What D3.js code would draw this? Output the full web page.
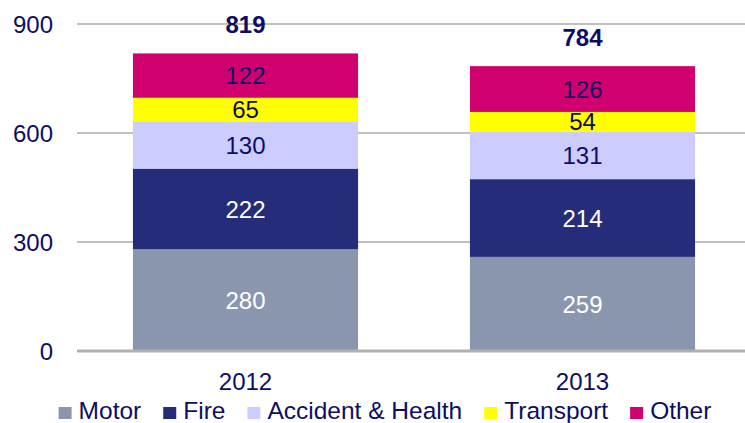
<!DOCTYPE html>
<html>
<head>
<meta charset="utf-8">
<script src="https://cdn.jsdelivr.net/npm/d3@7"></script>
<style>
  html, body { margin: 0; padding: 0; background: #fff; }
  svg { display: block; font-family: "Liberation Sans", Arial, sans-serif; }
</style>
</head>
<body>
<svg id="chart" width="745" height="423"></svg>
<script>
// data
const years = ["2012", "2013"];
const seriesNames = ["Motor", "Fire", "Accident & Health", "Transport", "Other"];
const motor = [280, 259];
const fire = [222, 214];
const accident = [130, 131];
const transport = [65, 54];
const other = [122, 126];
const totals = [819, 784];
const yTicks = [0, 300, 600, 900];

const seriesColors = ["#8a96ae", "#252d7b", "#ccccff", "#ffff00", "#d0006f"];
const labelColors = ["#ffffff", "#ffffff", "#0d0d66", "#0d0d66", "#0d0d66"];
const navy = "#0d0d66";

const W = 745, H = 423;
const margin = {top: 24, right: -6, bottom: 72, left: 77};

const svg = d3.select("#chart");

const rows = years.map((y, i) => ({
  year: y,
  "Motor": motor[i],
  "Fire": fire[i],
  "Accident & Health": accident[i],
  "Transport": transport[i],
  "Other": other[i],
  total: totals[i]
}));

const x = d3.scaleBand()
  .domain(years)
  .range([margin.left, W - margin.right])
  .paddingInner(0.332)
  .paddingOuter(0.166);

const y = d3.scaleLinear()
  .domain([0, 900])
  .range([H - margin.bottom, margin.top]);

// gridlines
svg.append("g").selectAll("line")
  .data(yTicks.filter(d => d > 0))
  .join("line")
  .attr("x1", margin.left).attr("x2", W)
  .attr("y1", d => y(d)).attr("y2", d => y(d))
  .attr("stroke", "#c0c0c0")
  .attr("stroke-width", 2);

// y tick labels
svg.append("g").selectAll("text")
  .data(yTicks)
  .join("text")
  .attr("x", 53)
  .attr("y", d => y(d))
  .attr("dy", "0.36em")
  .attr("text-anchor", "end")
  .attr("fill", navy)
  .style("font-size", "24px")
  .text(d => d);

// stacked bars
const stack = d3.stack().keys(seriesNames);
const stacked = stack(rows);

const layers = svg.append("g").selectAll("g")
  .data(stacked)
  .join("g")
  .attr("fill", (d, i) => seriesColors[i]);

layers.selectAll("rect")
  .data(d => d)
  .join("rect")
  .attr("x", d => x(d.data.year))
  .attr("width", x.bandwidth())
  .attr("y", d => y(d[1]))
  .attr("height", d => y(d[0]) - y(d[1]));

// baseline axis
svg.append("line")
  .attr("x1", margin.left).attr("x2", W)
  .attr("y1", y(0)).attr("y2", y(0))
  .attr("stroke", "#b0b0b0")
  .attr("stroke-width", 3);

// segment labels
stacked.forEach((layer, i) => {
  svg.append("g").selectAll("text")
    .data(layer)
    .join("text")
    .attr("x", d => x(d.data.year) + x.bandwidth() / 2)
    .attr("y", d => (y(d[0]) + y(d[1])) / 2)
    .attr("dy", "0.36em")
    .attr("text-anchor", "middle")
    .attr("fill", labelColors[i])
    .style("font-size", "24px")
    .text(d => d[1] - d[0]);
});

// totals
svg.append("g").selectAll("text")
  .data(rows)
  .join("text")
  .attr("x", d => x(d.year) + x.bandwidth() / 2)
  .attr("y", d => y(d.total) - 20)
  .attr("text-anchor", "middle")
  .attr("fill", navy)
  .style("font-size", "24px")
  .style("font-weight", "bold")
  .text(d => d.total);

// x labels
svg.append("g").selectAll("text")
  .data(years)
  .join("text")
  .attr("x", d => x(d) + x.bandwidth() / 2)
  .attr("y", 390)
  .attr("text-anchor", "middle")
  .attr("fill", navy)
  .style("font-size", "24px")
  .text(d => d);

// legend
const legend = svg.append("g");
let lx = 0;
seriesNames.forEach((name, i) => {
  const item = legend.append("g").attr("transform", `translate(${lx},0)`);
  item.append("rect")
    .attr("x", 0).attr("y", -12)
    .attr("width", 13).attr("height", 12)
    .attr("fill", seriesColors[i]);
  const t = item.append("text")
    .attr("x", 20).attr("y", 0)
    .attr("fill", navy)
    .style("font-size", "24.5px")
    .text(name);
  lx += 20 + t.node().getComputedTextLength() + 22;
});
const legendW = lx - 22;
legend.attr("transform", `translate(${385 - legendW / 2},419)`);
</script>
</body>
</html>
